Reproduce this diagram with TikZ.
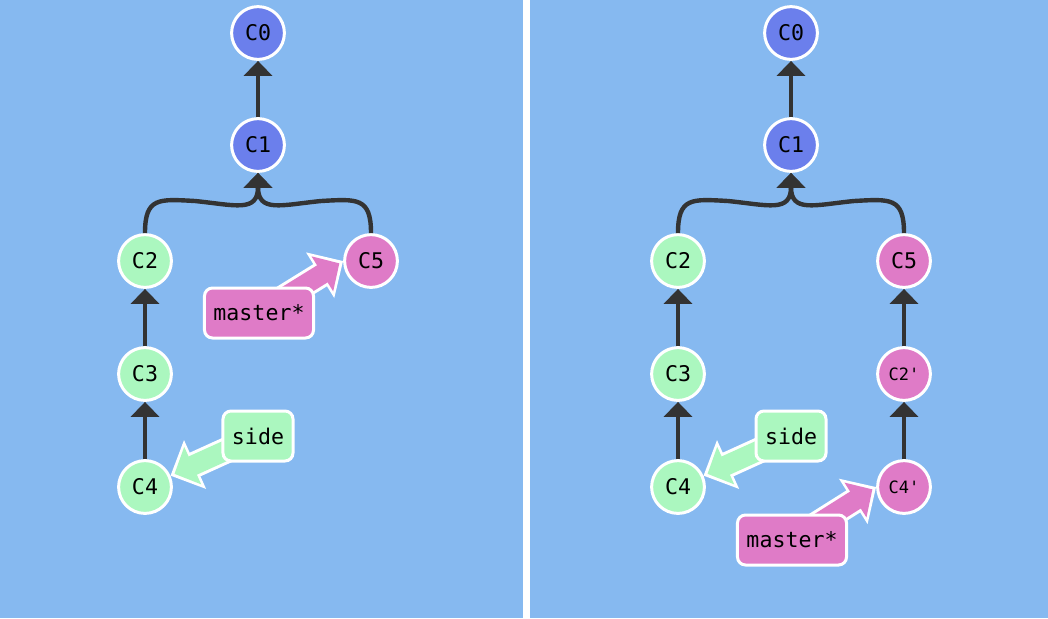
\documentclass[tikz,border=0pt]{standalone}
\usepackage{fontspec}
\usepackage{tikz}
\usetikzlibrary{arrows.meta,positioning,calc}
\newfontfamily\gitmono{DejaVu Sans Mono}
\definecolor{panel}{HTML}{86B9F0}
\definecolor{cblue}{HTML}{6B7FEC}
\definecolor{cgreen}{HTML}{ABF7BF}
\definecolor{cpink}{HTML}{DF7BC7}
\definecolor{cdark}{HTML}{333333}
\pgfdeclarelayer{bg}
\pgfdeclarelayer{front}
\pgfsetlayers{bg,main,front}

\begin{document}
\begin{tikzpicture}[parent/.style = {draw=cdark, line width=2.2pt, -{Triangle[length=7.5pt,width=14pt]}}, node distance=56.5pt]
		\tikzset{commit/.style={circle,draw=white,line width=1.5pt,minimum size=26.4pt,inner sep=0pt,text=black,font=\gitmono\fontsize{10.8}{12}\selectfont}}
		\tikzset{small/.style={font=\gitmono\fontsize{8.5}{10}\selectfont}}
		\tikzset{branch/.style={rectangle,rounded corners=4pt,draw=white,line width=1.5pt,minimum height=25pt,inner xsep=4.5pt,text=black,font=\gitmono\fontsize{10.8}{12}\selectfont}}
		\tikzset{ptr/.style={line width=10pt, draw=#1, -{Triangle[length=10pt,width=20pt]}, shorten >=2.2pt,
			preaction={draw=white, line width=13pt, -{Triangle[length=13.5pt,width=26pt]}, shorten >=0pt}}}

		% Panels
		\begin{pgfonlayer}{bg}
		\fill[panel] (0,0) rectangle (524pt,-309pt);
		\fill[white] (261.5pt,0) rectangle (265pt,-309pt);
		\end{pgfonlayer}
		\useasboundingbox (0,0) rectangle (524pt,-309pt);

		% Left: before rebase
		\node[commit, fill=cblue] (c0) at (129pt,-16.5pt) {C0};
		\node[commit, fill=cblue, below of=c0, node distance=56pt] (c1) {C1};
		\node[commit, fill=cgreen, below of=c1, node distance=58pt, xshift=-56.5pt] (c2) {C2};
		\node[commit, fill=cgreen, below of=c2] (c3) {C3};
		\node[commit, fill=cgreen, below of=c3] (c4) {C4};
		\node[commit, fill=cpink, right of=c2, node distance=113pt] (c5) {C5};

		\coordinate (lmid) at ($(c1)+(-31.5pt,-28pt)$);
		\coordinate (rmid) at ($(c1)+(31.5pt,-28pt)$);

		\begin{pgfonlayer}{front}
		\node[branch, fill=cpink] (master) at (129.5pt,-156.5pt) {master*};
		\node[branch, fill=cgreen] (side) at (129pt,-218pt) {side};
		\end{pgfonlayer}

		% Right: after rebase
		\node[commit, fill=cblue] (rc0) at (395.5pt,-16.5pt) {C0};
		\node[commit, fill=cblue, below of=rc0, node distance=56pt] (rc1) {C1};
		\node[commit, fill=cgreen, below of=rc1, node distance=58pt, xshift=-56.5pt] (rc2) {C2};
		\node[commit, fill=cgreen, below of=rc2] (rc3) {C3};
		\node[commit, fill=cgreen, below of=rc3] (rc4) {C4};
		\node[commit, fill=cpink, right of=rc2, node distance=113pt] (rc5) {C5};
		\node[commit, small, fill=cpink, below of=rc5] (rc2p) {C2'};
		\node[commit, small, fill=cpink, below of=rc2p] (rc4p) {C4'};

		\coordinate (rlmid) at ($(rc1)+(-31.5pt,-28pt)$);
		\coordinate (rrmid) at ($(rc1)+(31.5pt,-28pt)$);

		\begin{pgfonlayer}{front}
		\node[branch, fill=cgreen] (rside) at (395.5pt,-218pt) {side};
		\node[branch, fill=cpink] (rmaster) at (396pt,-270pt) {master*};
		\end{pgfonlayer}

		% Arrows
		\draw [parent] (c1) -- (c0);
		\draw [parent] (c3) -- (c2);
		\draw [parent] (c4) -- (c3);
		\draw [parent] (c2.north) .. controls +(0,18pt) and +(-18pt,1pt) .. (lmid) .. controls +(20pt,-2pt) and +(0,-20pt) .. (c1.south);
		\draw [parent] (c5.north) .. controls +(0,18pt) and +(18pt,1pt) .. (rmid) .. controls +(-20pt,-2pt) and +(0,-20pt) .. (c1.south);

		\draw [parent] (rc1) -- (rc0);
		\draw [parent] (rc3) -- (rc2);
		\draw [parent] (rc4) -- (rc3);
		\draw [parent] (rc2p) -- (rc5);
		\draw [parent] (rc4p) -- (rc2p);
		\draw [parent] (rc2.north) .. controls +(0,18pt) and +(-18pt,1pt) .. (rlmid) .. controls +(20pt,-2pt) and +(0,-20pt) .. (rc1.south);
		\draw [parent] (rc5.north) .. controls +(0,18pt) and +(18pt,1pt) .. (rrmid) .. controls +(-20pt,-2pt) and +(0,-20pt) .. (rc1.south);

		% Branch pointers
		\draw [ptr=cpink] (master.center) -- (c5.west);
		\draw [ptr=cgreen] (side.center) -- (c4.24);
		\draw [ptr=cgreen] (rside.center) -- (rc4.24);
		\draw [ptr=cpink] (rmaster.center) -- (rc4p.west);

	\end{tikzpicture}
\end{document}
